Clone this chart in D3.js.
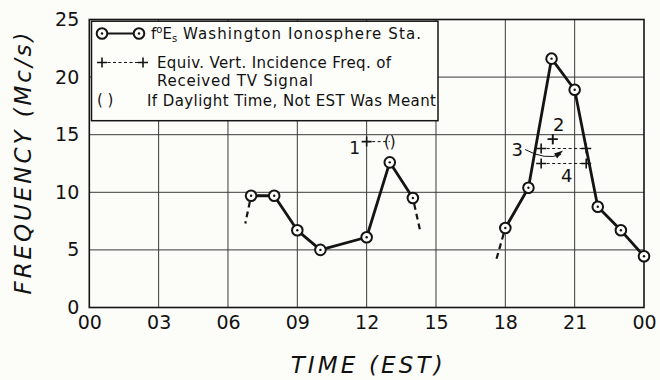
<!DOCTYPE html>
<html>
<head>
<meta charset="utf-8">
<script src="https://cdn.jsdelivr.net/npm/d3@7"></script>
<style>
  html, body { margin: 0; padding: 0; background: #fcfcf8; }
  svg { display: block; }
  text { font-family: "DejaVu Sans", sans-serif; fill: #111; }
</style>
</head>
<body>
<svg id="chart" width="660" height="380"></svg>
<script>
// ---- data ---------------------------------------------------------------
// f°Es at Washington, hour (EST) and frequency (Mc/s)
const morningHours  = [7, 8, 9, 10, 12, 13, 14];
const morningValues = [9.7, 9.7, 6.7, 5.0, 6.1, 12.6, 9.5];
const eveningHours  = [18, 19, 20, 21, 22, 23, 24];
const eveningValues = [6.9, 10.4, 21.6, 18.9, 8.75, 6.7, 4.45];

// dashed extrapolations: [fromHour, fromValue, toHour, toValue]
const leaderLines = [
  [7, 9.7, 6.75, 7.3],
  [14, 9.5, 14.3, 6.8],
  [18, 6.9, 17.6, 4.1]
];

// equivalent vertical-incidence frequency of received TV signal
// [label, startHour, endHour, value]
const tvEvents = [
  ["1", 12.0, 13.0, 14.4],
  ["2", 20.05, 20.05, 14.6],
  ["3", 19.55, 21.5, 13.8],
  ["4", 19.55, 21.5, 12.5]
];

const xTicks = [0, 3, 6, 9, 12, 15, 18, 21, 24];
const yTicks = [0, 5, 10, 15, 20, 25];

// ---- layout -------------------------------------------------------------
const W = 660, H = 380;
const margin = { top: 19.5, right: 16, bottom: 72.5, left: 89.3 };
const svg = d3.select("#chart");

const x = d3.scaleLinear().domain([0, 24]).range([margin.left, W - margin.right]);
const y = d3.scaleLinear().domain([0, 25]).range([H - margin.bottom, margin.top]);

const ink = "#141414";

// grid
const grid = svg.append("g");
grid.selectAll("line.v").data(xTicks.slice(1, -1)).join("line")
  .attr("x1", d => x(d)).attr("x2", d => x(d))
  .attr("y1", y(0)).attr("y2", y(25))
  .attr("stroke", "#3a3a3a").attr("stroke-width", 1);
grid.selectAll("line.h").data(yTicks.slice(1, -1)).join("line")
  .attr("x1", x(0)).attr("x2", x(24))
  .attr("y1", d => y(d)).attr("y2", d => y(d))
  .attr("stroke", "#3a3a3a").attr("stroke-width", 1);

// frame
svg.append("rect")
  .attr("x", x(0)).attr("y", y(25))
  .attr("width", x(24) - x(0)).attr("height", y(0) - y(25))
  .attr("fill", "none").attr("stroke", ink).attr("stroke-width", 1.6);

// axes (labels only; the frame carries the lines)
const xAxis = d3.axisBottom(x).tickValues(xTicks)
  .tickFormat(d => d3.format("02")(d % 24)).tickSize(0).tickPadding(8);
svg.append("g").attr("transform", `translate(0,${y(0)})`).call(xAxis)
  .call(g => g.select(".domain").remove())
  .selectAll("text").attr("font-size", 19).attr("fill", ink)
  .attr("font-family", "DejaVu Sans, sans-serif");

const yAxis = d3.axisLeft(y).tickValues(yTicks).tickSize(0).tickPadding(10);
svg.append("g").attr("transform", `translate(${x(0)},0)`).call(yAxis)
  .call(g => g.select(".domain").remove())
  .selectAll("text").attr("font-size", 19).attr("fill", ink)
  .attr("font-family", "DejaVu Sans, sans-serif");

// axis titles
svg.append("text")
  .attr("x", (x(0) + x(24)) / 2).attr("y", 373)
  .attr("text-anchor", "middle").attr("font-size", 23)
  .attr("font-style", "italic")
  .attr("textLength", 152).attr("lengthAdjust", "spacing")
  .text("TIME (EST)");

svg.append("text")
  .attr("transform", `translate(31,${(y(0) + y(25)) / 2}) rotate(-90)`)
  .attr("text-anchor", "middle").attr("font-size", 23)
  .attr("font-style", "italic")
  .attr("textLength", 262).attr("lengthAdjust", "spacing")
  .text("FREQUENCY (Mc/s)");

// ---- legend box -----------------------------------------------------------
const lg = svg.append("g");
lg.append("rect").attr("x", 91.5).attr("y", 21.2).attr("width", 346.5).attr("height", 99.5)
  .attr("fill", "#fdfdfa").attr("stroke", ink).attr("stroke-width", 1.5);

function ringMarker(g, cx, cy) {
  g.append("circle").attr("cx", cx).attr("cy", cy).attr("r", 5.3)
    .attr("fill", "#fdfdfa").attr("stroke", ink).attr("stroke-width", 2);
  g.append("circle").attr("cx", cx).attr("cy", cy).attr("r", 1.2).attr("fill", ink);
}
function crossMarker(g, cx, cy, s = 5) {
  g.append("path").attr("d", `M${cx - s},${cy}H${cx + s}M${cx},${cy - s}V${cy + s}`)
    .attr("stroke", ink).attr("stroke-width", 1.6).attr("fill", "none");
}

// row 1
lg.append("line").attr("x1", 102).attr("x2", 139).attr("y1", 33.5).attr("y2", 33.5)
  .attr("stroke", ink).attr("stroke-width", 2);
ringMarker(lg, 102, 33.5);
ringMarker(lg, 139, 33.5);
const t1 = lg.append("text").attr("x", 151).attr("y", 38.5).attr("font-size", 15);
t1.append("tspan").text("f");
t1.append("tspan").attr("font-size", 10).attr("dy", -6).text("o");
t1.append("tspan").attr("dy", 6).text("E");
t1.append("tspan").attr("font-size", 10).attr("dy", 3).text("s");
t1.append("tspan").attr("dy", -3).attr("letter-spacing", 1.1).text(" Washington Ionosphere Sta.");

// row 2
lg.append("line").attr("x1", 102).attr("x2", 143).attr("y1", 62.5).attr("y2", 62.5)
  .attr("stroke", ink).attr("stroke-width", 1).attr("stroke-dasharray", "3,2.5");
crossMarker(lg, 102, 62.5);
crossMarker(lg, 143, 62.5);
lg.append("text").attr("x", 157).attr("y", 68).attr("font-size", 15)
  .attr("textLength", 234).attr("lengthAdjust", "spacing")
  .text("Equiv. Vert. Incidence Freq. of");
lg.append("text").attr("x", 157).attr("y", 86).attr("font-size", 15)
  .attr("textLength", 156).attr("lengthAdjust", "spacing")
  .text("Received TV Signal");

// row 3
lg.append("text").attr("x", 97).attr("y", 105).attr("font-size", 15).text("( )");
lg.append("text").attr("x", 147).attr("y", 105.5).attr("font-size", 15)
  .attr("textLength", 289).attr("lengthAdjust", "spacing")
  .text("If Daylight Time, Not EST Was Meant");

// ---- data lines ----------------------------------------------------------
const line = d3.line().x(d => x(d[0])).y(d => y(d[1]));
const morning = d3.zip(morningHours, morningValues);
const evening = d3.zip(eveningHours, eveningValues);

const plot = svg.append("g");
plot.selectAll("path.lead").data(leaderLines).join("path")
  .attr("d", d => line([[d[0], d[1]], [d[2], d[3]]]))
  .attr("stroke", ink).attr("stroke-width", 2.2).attr("fill", "none")
  .attr("stroke-dasharray", "6,4").attr("stroke-dashoffset", -6);

[morning, evening].forEach(seg => {
  plot.append("path").attr("d", line(seg))
    .attr("fill", "none").attr("stroke", ink).attr("stroke-width", 2.8)
    .attr("stroke-linejoin", "round");
  seg.forEach(p => ringMarker(plot, x(p[0]), y(p[1])));
});

// ---- TV signal events ------------------------------------------------------
const ev = svg.append("g");
tvEvents.forEach(([lab, h0, h1, v]) => {
  if (h1 > h0) {
    ev.append("line").attr("x1", x(h0)).attr("x2", x(h1)).attr("y1", y(v)).attr("y2", y(v))
      .attr("stroke", ink).attr("stroke-width", 1).attr("stroke-dasharray", "3,2.5");
  }
  crossMarker(ev, x(h0), y(v), 5);
  if (lab === "1") {
    ev.append("text").attr("x", x(h1)).attr("y", y(v) + 5).attr("text-anchor", "middle")
      .attr("font-size", 15).text("()");
    ev.append("text").attr("x", x(h0) - 12).attr("y", y(v) + 12).attr("text-anchor", "middle")
      .attr("font-size", 17).text("1");
  } else {
    crossMarker(ev, x(h1), y(v), 5);
  }
  if (lab === "2") {
    ev.append("text").attr("x", x(h0) + 6).attr("y", y(v) - 8).attr("text-anchor", "middle")
      .attr("font-size", 18).text("2");
  }
  if (lab === "3") {
    ev.append("text").attr("x", x(h0) - 24).attr("y", y(v) + 7).attr("text-anchor", "middle")
      .attr("font-size", 18).text("3");
    const sx = x(h0) - 16, sy = y(v) + 1, ex = x(h0) + 20, ey = y(v) + 6;
    ev.append("path").attr("d", `M${sx},${sy} Q${x(h0) + 4},${y(v) + 12} ${ex},${ey}`)
      .attr("fill", "none").attr("stroke", ink).attr("stroke-width", 1);
    ev.append("path").attr("d", `M${ex - 7},${ey - 1} L${ex + 2},${ey - 4} L${ex - 4},${ey + 4} Z`)
      .attr("fill", ink);
  }
  if (lab === "4") {
    ev.append("text").attr("x", (x(h0) + x(h1)) / 2 + 3).attr("y", y(v) + 18).attr("text-anchor", "middle")
      .attr("font-size", 18).text("4");
  }
});
</script>
</body>
</html>
